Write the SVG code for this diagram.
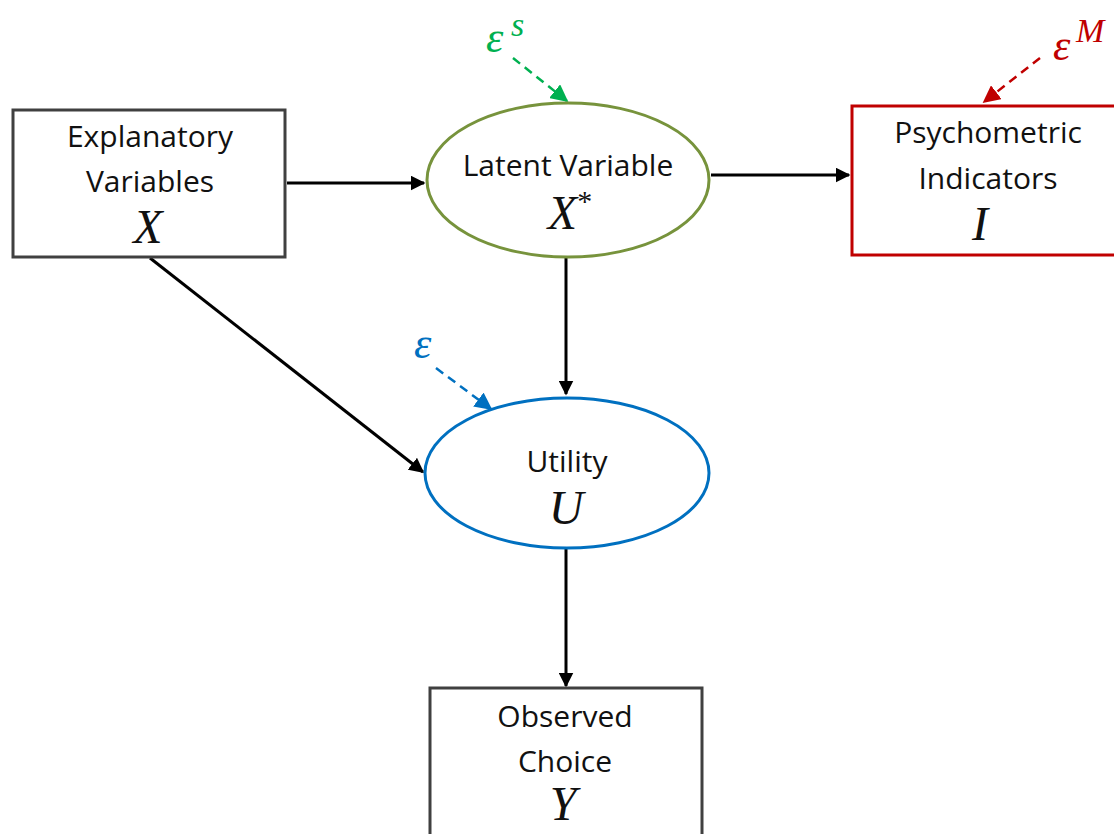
<svg xmlns="http://www.w3.org/2000/svg" width="1114" height="834" viewBox="0 0 1114 834">
  <style>
    .lbl { font-family: "Open Sans", Lato, "Liberation Sans", sans-serif; font-size: 30px; fill: #111; text-anchor: middle; }
    .math { font-family: "Liberation Serif", "DejaVu Serif", serif; font-style: italic; font-size: 48px; fill: #111; text-anchor: middle; }
    .eps { font-family: "Liberation Serif", "DejaVu Serif", serif; font-style: italic; font-size: 44px; }
    .sup { font-family: "Liberation Serif", "DejaVu Serif", serif; font-style: italic; font-size: 34px; }
    .box { fill: #fff; stroke-width: 3; }
    .edge { stroke: #000; stroke-width: 3; fill: none; marker-end: url(#ah); }
    .dash { stroke-width: 2.5; stroke-dasharray: 9 6; fill: none; }
  </style>
  <defs>
    <marker id="ah" viewBox="0 0 10 10" refX="9" refY="5" markerWidth="5" markerHeight="5" orient="auto" markerUnits="strokeWidth">
      <path d="M0,0 L10,5 L0,10 z" fill="#000"/>
    </marker>
    <marker id="ahG" viewBox="0 0 10 10" refX="9" refY="5" markerWidth="7" markerHeight="7" orient="auto" markerUnits="strokeWidth">
      <path d="M0,0 L10,5 L0,10 z" fill="#00B050"/>
    </marker>
    <marker id="ahR" viewBox="0 0 10 10" refX="9" refY="5" markerWidth="7" markerHeight="7" orient="auto" markerUnits="strokeWidth">
      <path d="M0,0 L10,5 L0,10 z" fill="#C00000"/>
    </marker>
    <marker id="ahB" viewBox="0 0 10 10" refX="9" refY="5" markerWidth="7" markerHeight="7" orient="auto" markerUnits="strokeWidth">
      <path d="M0,0 L10,5 L0,10 z" fill="#0070C0"/>
    </marker>
  </defs>
  <rect width="1114" height="834" fill="#fff"/>

  <!-- connectors -->
  <g id="connectors">
    <line class="edge" x1="287" y1="183" x2="424" y2="183"/>
    <line class="edge" x1="711" y1="175" x2="849" y2="175"/>
    <line class="edge" x1="566" y1="258" x2="566" y2="394"/>
    <line class="edge" x1="150" y1="258" x2="423" y2="472"/>
    <line class="edge" x1="566" y1="549" x2="566" y2="686"/>
    <line class="dash" stroke="#00B050" marker-end="url(#ahG)" x1="513" y1="58" x2="567" y2="101"/>
    <line class="dash" stroke="#C00000" marker-end="url(#ahR)" x1="1040" y1="58" x2="984" y2="102"/>
    <line class="dash" stroke="#0070C0" marker-end="url(#ahB)" x1="436" y1="368" x2="491" y2="409"/>
  </g>

  <!-- error terms -->
  <g id="eps-s" fill="#00B050">
    <text class="eps" x="486" y="52">ε</text>
    <text class="sup" x="511" y="36">s</text>
  </g>
  <g id="eps-m" fill="#C00000">
    <text class="eps" x="1053" y="60">ε</text>
    <text class="sup" x="1076" y="42">M</text>
  </g>
  <g id="eps-u" fill="#0070C0">
    <text class="eps" x="414" y="358">ε</text>
  </g>

  <g id="explanatory">
    <rect class="box" stroke="#404040" x="13" y="110" width="272" height="147"/>
    <text class="lbl" x="150" y="147">Explanatory</text>
    <text class="lbl" x="150" y="192">Variables</text>
    <text class="math" x="148" y="243">X</text>
  </g>

  <g id="latent">
    <ellipse class="box" stroke="#77933C" cx="568" cy="180" rx="141" ry="77"/>
    <text class="lbl" x="568" y="176">Latent Variable</text>
    <text class="math" x="570" y="229">X<tspan font-size="30" dy="-18" font-style="normal">*</tspan></text>
  </g>

  <g id="psychometric">
    <rect class="box" stroke="#C00000" x="852" y="106" width="264" height="149"/>
    <text class="lbl" x="988" y="143">Psychometric</text>
    <text class="lbl" x="988" y="189">Indicators</text>
    <text class="math" x="980" y="240">I</text>
  </g>

  <g id="utility">
    <ellipse class="box" stroke="#0070C0" cx="567" cy="473" rx="142" ry="75"/>
    <text class="lbl" x="567" y="472">Utility</text>
    <text class="math" x="566" y="524">U</text>
  </g>

  <g id="observed">
    <rect class="box" stroke="#404040" x="430" y="688" width="272" height="160"/>
    <text class="lbl" x="565" y="727">Observed</text>
    <text class="lbl" x="565" y="772">Choice</text>
    <text class="math" x="563" y="820">Y</text>
  </g>
</svg>
